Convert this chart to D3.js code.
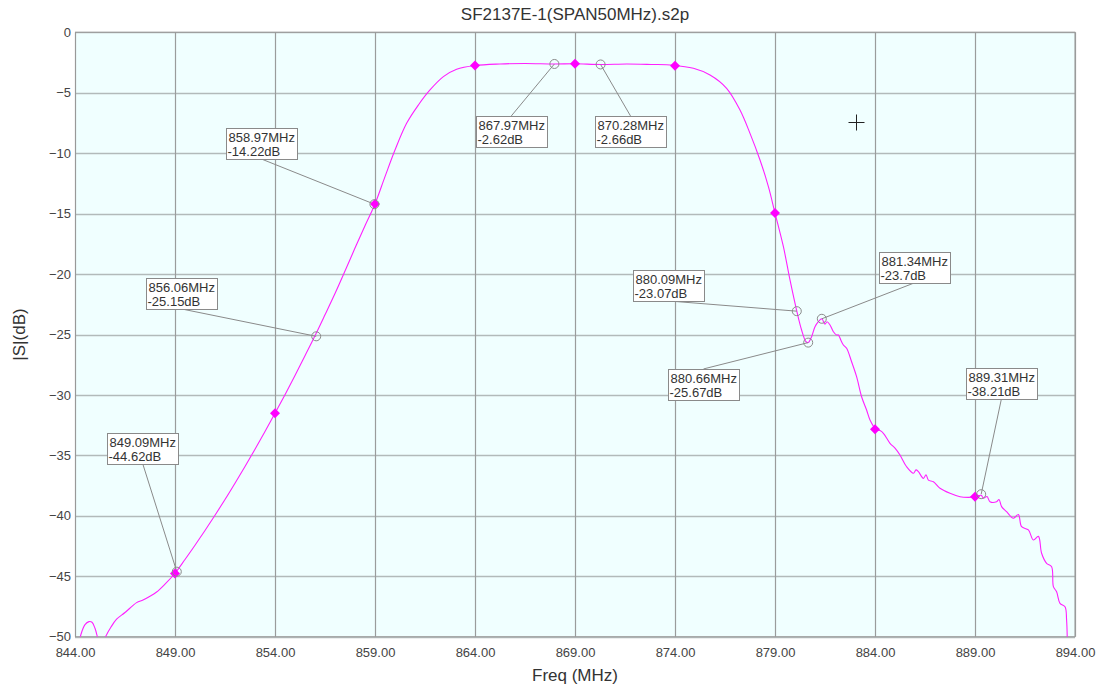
<!DOCTYPE html>
<html>
<head>
<meta charset="utf-8">
<script src="https://cdn.jsdelivr.net/npm/d3@7"></script>
<style>
  html, body { margin: 0; padding: 0; background: #fff; }
  svg text { font-family: "Liberation Sans", Arial, sans-serif; }
</style>
</head>
<body>
<svg id="chart" width="1102" height="687"></svg>
<script>
// ---- data ----
const title = "SF2137E-1(SPAN50MHz).s2p";
const xLabel = "Freq (MHz)";
const yLabel = "|S|(dB)";
const xTicks = [844, 849, 854, 859, 864, 869, 874, 879, 884, 889, 894];
const yTicks = [0, -5, -10, -15, -20, -25, -30, -35, -40, -45, -50];

const traceFreq = [
  844.1, 844.3, 844.5, 844.7, 844.85, 845.0, 845.15, 845.3, 845.5, 845.8,
  846.08, 846.5, 847.08, 847.4, 847.75, 848.08, 848.5, 849.0, 849.5,
  850.0, 850.5, 851.0, 851.5, 852.0, 852.5, 853.0, 853.5, 854.0, 854.5, 855.0,
  855.5, 856.0, 856.5, 857.0, 857.5, 858.0, 858.5, 859.0, 859.5, 860.0,
  860.58, 861.17, 861.75, 862.42, 863.08, 864.0, 865.25, 866.5, 867.97, 869.0,
  870.28, 871.6, 872.8, 873.9, 874.92, 875.75, 876.58, 877.25, 877.75, 878.25,
  878.67, 879.0, 879.42, 879.75, 880.09, 880.33, 880.55, 880.66, 880.83, 881.0,
  881.17, 881.34, 881.5, 881.6, 881.75, 881.92, 882.08, 882.17, 882.3, 882.42,
  882.58, 882.83, 883.08, 883.33, 883.58, 883.75, 884.05, 884.25, 884.42, 884.75,
  885.0, 885.25, 885.58, 885.92, 886.05, 886.17, 886.42, 886.55, 886.67, 886.92,
  887.25, 887.75, 888.25, 888.67, 889.0, 889.31, 889.42, 889.6, 889.75, 890.08,
  890.2, 890.33, 890.58, 890.92, 891.17, 891.33, 891.67, 891.92, 892.17, 892.33,
  892.58, 892.83, 892.92, 893.08, 893.25, 893.5, 893.58, 893.62
];
const traceDb = [
  -51.5, -49.8, -49.0, -48.75, -48.8, -49.3, -50.2, -51.0, -50.1, -49.2,
  -48.55, -48.0, -47.18, -46.96, -46.65, -46.3, -45.65, -44.75, -43.61,
  -42.43, -41.21, -39.95, -38.65, -37.3, -35.92, -34.49, -33.02, -31.52, -29.98, -28.39,
  -26.75, -25.1, -23.37, -21.61, -19.75, -17.85, -16.0, -14.2, -11.94, -9.74,
  -7.53, -6.01, -4.77, -3.67, -3.06, -2.75, -2.62, -2.58, -2.62, -2.6,
  -2.66, -2.62, -2.66, -2.72, -2.98, -3.53, -4.63, -6.43, -8.36, -10.56,
  -12.77, -14.95, -17.74, -20.49, -23.07, -24.63, -25.6, -25.67, -25.18, -24.35,
  -23.94, -23.7, -24.15, -23.95, -24.21, -24.77, -25.04, -25.04, -25.5, -25.87,
  -26.14, -27.25, -28.49, -30.15, -31.25, -32.07, -32.84, -32.95, -33.17, -34.0,
  -34.4, -34.97, -35.94, -36.48, -36.2, -36.35, -36.9, -36.6, -37.04, -37.18,
  -37.72, -38.14, -38.42, -38.47, -38.43, -38.3, -38.55, -38.4, -38.83, -38.83,
  -38.65, -39.24, -39.66, -40.2, -39.9, -40.9, -41.17, -42.0, -41.7, -43.1,
  -43.93, -44.21, -45.86, -46.28, -47.24, -47.52, -48.62, -51.0
];

// filled diamond markers
const markerFreq = [849, 854, 859, 864, 869, 874, 879, 884, 889];
const markerDb = [-44.78, -31.52, -14.2, -2.75, -2.6, -2.76, -14.95, -32.84, -38.43];

// labelled (open circle) markers
const noteFreq = [849.09, 856.06, 858.97, 867.97, 870.28, 880.09, 880.66, 881.34, 889.31];
const noteDb = [-44.62, -25.15, -14.22, -2.62, -2.66, -23.07, -25.67, -23.7, -38.21];
// label box anchor (top-left corner), in data units
const noteBoxFreq = [845.62, 847.55, 851.55, 864.04, 870.0, 871.9, 873.65, 884.22, 888.54];
const noteBoxDb = [-33.17, -20.32, -7.92, -6.92, -6.92, -19.66, -27.85, -18.15, -27.8];

// cursor crosshair
const cursorFreq = [883.05];
const cursorDb = [-7.45];

// ---- drawing ----
const svg = d3.select("#chart");
const L = 75, R = 1075, T = 32.3, B = 636.7;
const x = d3.scaleLinear().domain([844, 894]).range([L, R]);
const y = d3.scaleLinear().domain([0, -50]).range([T, B]);

svg.append("rect").attr("x", L).attr("y", T).attr("width", R - L).attr("height", B - T)
  .attr("fill", "#f0ffff");

// grid
svg.append("g").selectAll("line").data(yTicks).join("line")
  .attr("x1", L).attr("x2", R)
  .attr("y1", d => Math.round(y(d)) + 0.5).attr("y2", d => Math.round(y(d)) + 0.5)
  .attr("stroke", "#b2baba").attr("stroke-width", 1.6);
svg.append("g").selectAll("line").data(xTicks).join("line")
  .attr("y1", T).attr("y2", B)
  .attr("x1", d => Math.round(x(d)) + 0.5).attr("x2", d => Math.round(x(d)) + 0.5)
  .attr("stroke", "#9a9c9c").attr("stroke-width", 1.2);

// border
svg.append("rect").attr("x", L + 0.5).attr("y", T).attr("width", R - L - 0.5).attr("height", B - T)
  .attr("fill", "none").attr("stroke", "#999").attr("stroke-width", 1);

// axes via d3
const xAxis = d3.axisBottom(x).tickValues(xTicks).tickFormat(d3.format(".2f")).tickSize(0).tickPadding(11);
const gx = svg.append("g").attr("transform", `translate(0,${B})`).call(xAxis);
gx.select(".domain").remove();
gx.selectAll("text").attr("font-size", 13).attr("fill", "#444")
  .attr("font-family", "'Liberation Sans', Arial, sans-serif");

const yAxis = d3.axisLeft(y).tickValues(yTicks).tickFormat(d3.format("d")).tickSize(0).tickPadding(4);
const gy = svg.append("g").attr("transform", `translate(${L},0)`).call(yAxis);
gy.select(".domain").remove();
gy.selectAll("text").attr("font-size", 13).attr("fill", "#444")
  .attr("font-family", "'Liberation Sans', Arial, sans-serif");

// clip
svg.append("clipPath").attr("id", "clip").append("rect")
  .attr("x", L).attr("y", T).attr("width", R - L).attr("height", B - T);

const trace = traceFreq.map((f, i) => [f, traceDb[i]]);
const line = d3.line().x(d => x(d[0])).y(d => y(d[1])).curve(d3.curveCatmullRom.alpha(0.5));
svg.append("path").datum(trace).attr("d", line)
  .attr("clip-path", "url(#clip)")
  .attr("fill", "none").attr("stroke", "#ff20ff").attr("stroke-width", 1.1);

// leader lines + boxes
const boxW = 71, boxH = 31;
const notes = noteFreq.map((f, i) => ({
  f, db: noteDb[i], bx: x(noteBoxFreq[i]), by: y(noteBoxDb[i])
}));
const ng = svg.append("g");
notes.forEach(n => {
  const px = x(n.f), py = y(n.db);
  const ax = n.bx + boxW / 2;
  const ay = py > n.by + boxH ? n.by + boxH : n.by;
  ng.append("line").attr("x1", ax).attr("y1", ay).attr("x2", px).attr("y2", py)
    .attr("stroke", "#8a8a8a").attr("stroke-width", 1);
});

// filled diamond markers
svg.append("g").selectAll("path").data(markerFreq.map((f, i) => [f, markerDb[i]])).join("path")
  .attr("d", d3.symbol(d3.symbolSquare, 50)())
  .attr("transform", d => `translate(${x(d[0])},${y(d[1])}) rotate(45)`)
  .attr("fill", "#ff00ff");

// open circles
svg.append("g").selectAll("circle").data(notes).join("circle")
  .attr("cx", d => x(d.f)).attr("cy", d => y(d.db)).attr("r", 4.5)
  .attr("fill", "none").attr("stroke", "#8a8a8a").attr("stroke-width", 1);

// boxes
notes.forEach(n => {
  const g = ng.append("g").attr("transform", `translate(${Math.round(n.bx) + 0.5},${Math.round(n.by) + 0.5})`);
  g.append("rect").attr("width", boxW).attr("height", boxH)
    .attr("fill", "#fff").attr("stroke", "#8a8a8a");
  g.append("text").attr("x", 2).attr("y", 13).attr("font-size", 13).attr("fill", "#333")
    .text(`${n.f.toFixed(2)}MHz`);
  g.append("text").attr("x", 1).attr("y", 27).attr("font-size", 13).attr("fill", "#333")
    .text(`${n.db}dB`);
});

// crosshair
cursorFreq.forEach((f, i) => {
  const cx = Math.round(x(f)) + 0.5, cy = Math.round(y(cursorDb[i])) + 0.5;
  svg.append("line").attr("x1", cx - 8).attr("x2", cx + 8).attr("y1", cy).attr("y2", cy).attr("stroke", "#222");
  svg.append("line").attr("x1", cx).attr("x2", cx).attr("y1", cy - 8).attr("y2", cy + 8).attr("stroke", "#222");
});

// titles
svg.append("text").attr("x", (L + R) / 2).attr("y", 20).attr("text-anchor", "middle")
  .attr("font-size", 17).attr("fill", "#333").text(title);
svg.append("text").attr("x", (L + R) / 2).attr("y", 681).attr("text-anchor", "middle")
  .attr("font-size", 17).attr("fill", "#333").text(xLabel);
svg.append("text").attr("transform", `translate(25,${(T + B) / 2}) rotate(-90)`)
  .attr("text-anchor", "middle").attr("font-size", 17).attr("fill", "#333").text(yLabel);
</script>
</body>
</html>
